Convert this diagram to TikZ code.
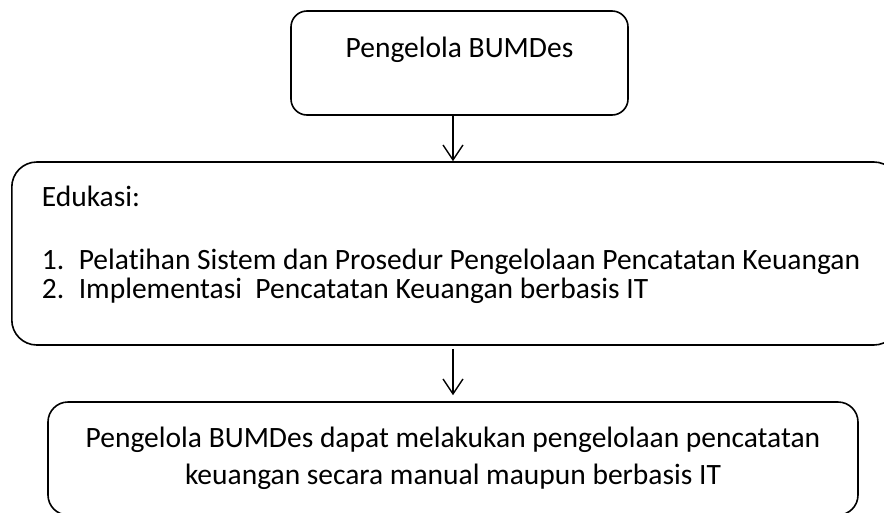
\documentclass[tikz,border=0pt]{standalone}
\usepackage{fontspec}
\setmainfont{Carlito}[Ligatures=NoCommon]
\usetikzlibrary{positioning,arrows.meta}
\tikzset{
  box/.style ={rectangle,draw=black,line width=1.6pt,inner sep=0pt},
  flow/.style={-{Straight Barb[length=15pt,width=20pt,line width=1.4pt]},line width=1.4pt},
}
\newcommand{\boxtext}{\fontsize{29.5}{29}\selectfont}
\newcommand{\listno}[1]{\makebox[37pt][l]{#1}}

\begin{document}
\begin{tikzpicture}[x=1pt,y=-1pt]
  \useasboundingbox (0,0) rectangle (884,512);
  \node[box,rounded corners=16pt,minimum width=337pt,minimum height=104pt,font=\boxtext,text height=20pt,text depth=32pt] (mgr) at (459.5,63) {Pengelola BUMDes};
  \node[box,rounded corners=25pt,anchor=west,minimum width=887pt,minimum height=183pt,inner xsep=30pt,text width=827pt,align=flush left,font=\boxtext] (edu) at (11,253.5) {Edukasi:\\[34pt]\listno{1.}Pelatihan Sistem dan Prosedur Pengelolaan Pencatatan Keuangan\\\listno{2.}Implementasi~ Pencatatan Keuangan berbasis IT\rule[-22pt]{0pt}{0pt}};
  \node[box,rounded corners=20pt,minimum width=810pt,minimum height=113pt,align=flush center,font=\fontsize{29.5}{37}\selectfont] (hasil) at (453,458.5) {Pengelola BUMDes dapat melakukan pengelolaan pencatatan\\keuangan secara manual maupun berbasis IT};
  \draw[flow] (mgr.south -| hasil) -- (edu.north -| hasil);
  \draw[flow,shorten <=3pt,shorten >=6pt] (edu.south -| hasil) -- (hasil.north);
\end{tikzpicture}
\end{document}
